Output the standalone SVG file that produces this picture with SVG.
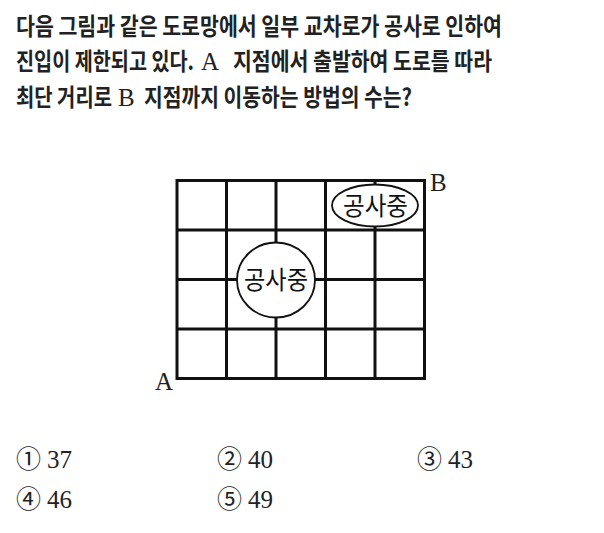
<svg xmlns="http://www.w3.org/2000/svg" width="604" height="533" viewBox="0 0 604 533">
<style>
.q{font-family:"Noto Sans CJK KR","Noto Sans",sans-serif;font-size:23.5px;font-weight:bold;fill:#222}
.s{font-family:"Liberation Serif","Times New Roman",serif;fill:#222}
.g{stroke:#111;stroke-width:3;fill:none}
.c{stroke:#111;stroke-width:1.8;fill:#fff}
.k{font-family:"Noto Sans CJK KR","Noto Sans",sans-serif;font-size:25px;fill:#111}
.n{font-family:"Noto Sans CJK KR",sans-serif;font-size:25px;fill:#222}
</style>
<rect width="604" height="533" fill="#fff"/>
<g id="question">
<text class="q" x="16" y="35" textLength="486" lengthAdjust="spacingAndGlyphs">다음 그림과 같은 도로망에서 일부 교차로가 공사로 인하여</text>
<text class="q" x="16" y="70" textLength="178" lengthAdjust="spacingAndGlyphs">진입이 제한되고 있다.</text>
<text class="s" x="201" y="70" font-size="25">A</text>
<text class="q" x="233" y="70" textLength="259" lengthAdjust="spacingAndGlyphs">지점에서 출발하여 도로를 따라</text>
<text class="q" x="16" y="106" textLength="96" lengthAdjust="spacingAndGlyphs">최단 거리로</text>
<text class="s" x="118" y="106" font-size="25">B</text>
<text class="q" x="144" y="106" textLength="268" lengthAdjust="spacingAndGlyphs">지점까지 이동하는 방법의 수는?</text>
</g>
<g id="connectors">
<rect class="g" x="177" y="180.5" width="247.5" height="198"/>
<line class="g" x1="226.5" y1="180.5" x2="226.5" y2="378.5"/>
<line class="g" x1="276" y1="180.5" x2="276" y2="378.5"/>
<line class="g" x1="325.5" y1="180.5" x2="325.5" y2="378.5"/>
<line class="g" x1="375" y1="180.5" x2="375" y2="378.5"/>
<line class="g" x1="177" y1="230" x2="424.5" y2="230"/>
<line class="g" x1="177" y1="279.5" x2="424.5" y2="279.5"/>
<line class="g" x1="177" y1="329" x2="424.5" y2="329"/>
</g>
<g id="node-block-center">
<ellipse class="c" cx="276" cy="280" rx="39" ry="37.5"/>
<text class="k" x="244" y="289" textLength="64" lengthAdjust="spacingAndGlyphs">공사중</text>
</g>
<g id="node-block-top">
<ellipse class="c" cx="375" cy="205.5" rx="43" ry="21"/>
<text class="k" x="343" y="215" textLength="65" lengthAdjust="spacingAndGlyphs">공사중</text>
</g>
<g id="node-A"><text class="s" x="155" y="390" font-size="25">A</text></g>
<g id="node-B"><text class="s" x="430" y="191" font-size="25">B</text></g>
<g id="choices">
<text class="n" x="16" y="468">①</text><text class="s" x="47" y="468" font-size="25">37</text>
<text class="n" x="217" y="468">②</text><text class="s" x="248" y="468" font-size="25">40</text>
<text class="n" x="417" y="468">③</text><text class="s" x="448" y="468" font-size="25">43</text>
<text class="n" x="16" y="508">④</text><text class="s" x="47" y="508" font-size="25">46</text>
<text class="n" x="217" y="508">⑤</text><text class="s" x="248" y="508" font-size="25">49</text>
</g>
</svg>
